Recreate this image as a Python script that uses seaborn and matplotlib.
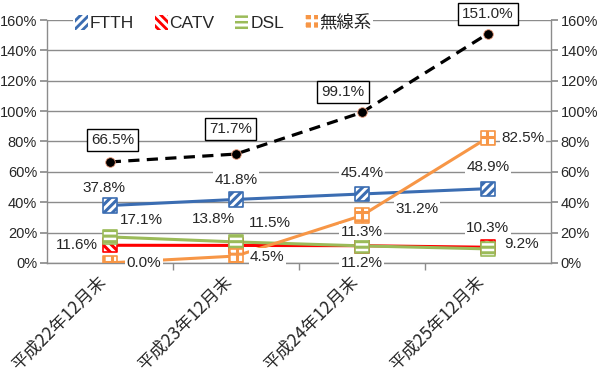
import seaborn as sns
import pandas as pd
import matplotlib
matplotlib.use("Agg")
from matplotlib import pyplot as plt
from matplotlib.patches import Patch
from matplotlib.transforms import ScaledTranslation

# data
periods = ['平成22年12月末', '平成23年12月末', '平成24年12月末', '平成25年12月末']
ftth = [37.8, 41.8, 45.4, 48.9]
catv = [11.6, 11.5, 11.3, 10.3]
dsl = [17.1, 13.8, 11.2, 9.2]
wireless = [0.0, 4.5, 31.2, 82.5]
total = [66.5, 71.7, 99.1, 151.0]
yticks = [0, 20, 40, 60, 80, 100, 120, 140, 160]

sns.set_theme(style="white")
plt.rcParams['font.family'] = ['Liberation Sans', 'Noto Sans CJK JP', 'DejaVu Sans']
plt.rcParams['hatch.linewidth'] = 2.2

df = pd.DataFrame({'x': range(len(periods)), 'FTTH': ftth, 'CATV': catv,
                   'DSL': dsl, '無線系': wireless, 'total': total})

fig = plt.figure(figsize=(6, 3.86), dpi=100)
ax = fig.add_axes([0.078, 0.319, 0.84, 0.629])
ax2 = ax.twinx()

series = [
    ('FTTH', '#3b6db2', '////'),
    ('CATV', '#ff0000', '\\\\\\\\'),
    ('DSL', '#9bbb59', '---'),
    ('無線系', '#f79646', '++'),
]

for name, col, hatch in series:
    sns.lineplot(data=df, x='x', y=name, ax=ax, color=col, linewidth=2.2, zorder=3)
for name, col, hatch in series:
    ax.scatter(df['x'], df[name], s=105, marker='s', facecolor='white',
               edgecolor=col, hatch=hatch, linewidth=1.2, zorder=4)

sns.lineplot(data=df, x='x', y='total', ax=ax, color='black', linewidth=2.3,
             linestyle=(0, (3.5, 2.3)), zorder=3)
ax.scatter(df['x'], df['total'], s=48, color='black', edgecolor='#f0a080',
           linewidth=0.6, zorder=4)

for a in (ax, ax2):
    a.set_ylim(0, 160)
    a.set_xlim(-0.5, 3.5)
    a.set_yticks(yticks)
    a.set_yticklabels([f'{v}%' for v in yticks], fontsize=10.5)
    a.set_ylabel('')
    a.set_xlabel('')
    for s in a.spines.values():
        s.set_visible(False)
ax.spines['left'].set_visible(True)
ax.spines['bottom'].set_visible(True)
ax2.spines['right'].set_visible(True)
for s in (ax.spines['left'], ax.spines['bottom'], ax2.spines['right']):
    s.set_color('#8c8c8c')
    s.set_linewidth(1.0)

ax.yaxis.grid(True, color='#8c8c8c', linewidth=1.0)
ax.set_axisbelow(True)
ax.tick_params(axis='y', left=True, length=5, color='#8c8c8c', pad=2)
ax2.tick_params(axis='y', right=True, length=5, color='#8c8c8c', pad=2)

ax.set_xticks(range(len(periods)))
ax.set_xticklabels(periods, rotation=45, ha='right', rotation_mode='anchor',
                   fontsize=12.5, family=['Noto Sans CJK JP'])
ax.tick_params(axis='x', bottom=False, pad=3)
shift = ScaledTranslation(-0.13, 0.03, fig.dpi_scale_trans)
for t in ax.get_xticklabels():
    t.set_transform(t.get_transform() + shift)
ax.set_xticks([0.5, 1.5, 2.5], minor=True)
ax.tick_params(axis='x', which='minor', bottom=True, length=5, color='#8c8c8c')

lab = dict(fontsize=11, bbox=dict(facecolor='white', edgecolor='none', pad=1),
           zorder=6, va='center', ha='center')
# FTTH labels
ftth_off = [(-0.05, 11.5), (0, 13), (0, 14), (0, 14)]
for i, v in enumerate(ftth):
    ax.text(i + ftth_off[i][0], v + ftth_off[i][1], f'{v}%', **lab)
# CATV labels
ax.text(-0.26, catv[0], f'{catv[0]}%', **lab)
ax.text(1.27, catv[1] + 15, f'{catv[1]}%', **lab)
ax.text(2, catv[2] + 9, f'{catv[2]}%', **lab)
ax.text(3, catv[3] + 13, f'{catv[3]}%', **lab)
# DSL labels
ax.text(0.25, dsl[0] + 11, f'{dsl[0]}%', **lab)
ax.text(0.82, dsl[1] + 15, f'{dsl[1]}%', **lab)
ax.text(2, dsl[2] - 11.5, f'{dsl[2]}%', **lab)
ax.text(3.27, dsl[3] + 3, f'{dsl[3]}%', **lab)
# wireless labels
ax.text(0.27, wireless[0], f'{wireless[0]}%', **lab)
ax.text(1.25, wireless[1] - 0.5, f'{wireless[1]}%', **lab)
ax.text(2.44, wireless[2] + 4, f'{wireless[2]}%', **lab)
ax.text(3.28, wireless[3], f'{wireless[3]}%', **lab)
# total labels (boxed)
box = dict(fontsize=11, zorder=7, va='center', ha='center',
           bbox=dict(facecolor='white', edgecolor='black', linewidth=1, pad=3))
tot_off = [(0.02, 14.5), (-0.04, 16.3), (-0.15, 13.4), (0, 13)]
for i, v in enumerate(total):
    dx, dy = tot_off[i]
    ax.text(i + dx, v + dy, f'{v}%', clip_on=False, **box)

handles = [Patch(facecolor=col, edgecolor='white', hatch=h, linewidth=0, label=name)
           for name, col, h in series]
leg = ax.legend(handles=handles, loc='upper left', bbox_to_anchor=(0.035, 1.065),
                ncol=4, frameon=True, handlelength=0.75, handleheight=0.95,
                handletextpad=0.1, columnspacing=1.2, borderpad=0.1,
                prop={'family': ['Liberation Sans', 'Noto Sans CJK JP'], 'size': 12.5})
leg.get_frame().set_edgecolor('none')
leg.get_frame().set_facecolor('white')
leg.get_frame().set_alpha(1)
leg.set_zorder(10)
ax.set_zorder(ax2.get_zorder() + 1)
ax.patch.set_visible(False)

fig.savefig('out.png', dpi=100)
